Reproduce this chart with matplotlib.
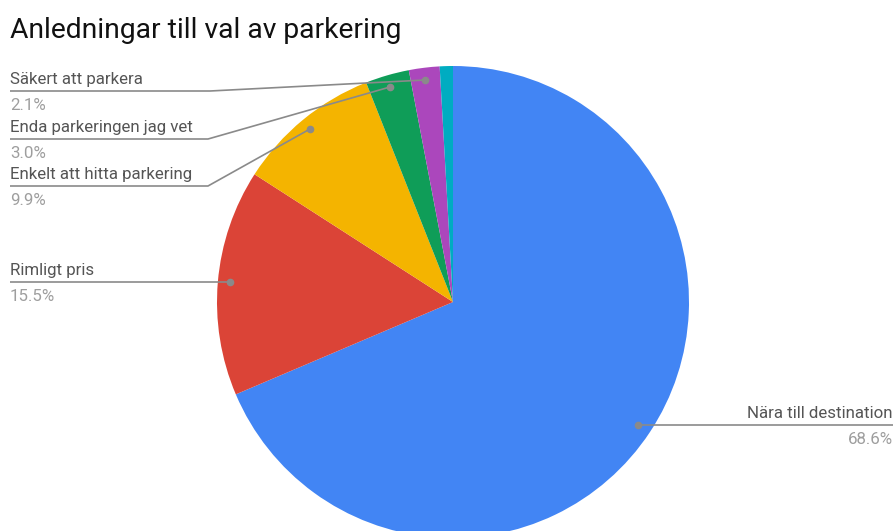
import matplotlib.pyplot as plt

# slices, clockwise from the top
labels = ['Nära till destination', 'Rimligt pris', 'Enkelt att hitta parkering',
          'Enda parkeringen jag vet', 'Säkert att parkera', 'Övrigt']
values = [68.6, 15.5, 9.9, 3.0, 2.1, 0.9]
colors = ['#4285F4', '#DB4437', '#F4B400', '#0F9D58', '#AB47BC', '#00ACC1']
pct_labels = ['68.6%', '15.5%', '9.9%', '3.0%', '2.1%', '']

W, H = 896, 531
fig = plt.figure(figsize=(W / 100, H / 100), dpi=100)
ax = fig.add_axes([0, 0, 1, 1])

# work in pixel coordinates (y down) via a helper
def py(y):
    return H - y

cx, cy, r = 453, 302, 236
ax.pie(values, colors=colors, startangle=90, counterclock=False,
       center=(cx, py(cy)), radius=r, frame=True,
       wedgeprops=dict(linewidth=0))
ax.set_xlim(0, W)
ax.set_ylim(0, H)
ax.set_aspect('equal')
ax.axis('off')

fig.text(10 / W, 1 - 31 / H, 'Anledningar till val av parkering',
         fontsize=20.3, family='Roboto', color='#111111', va='center', ha='left')

line_c = '#8a8a8a'
lab_c = '#555555'
pct_c = '#9e9e9e'
fs = 12.2

# leader lines: (dot, elbow, end) in pixels, text side
leaders = [
    ((638, 425), (638, 425), (893, 425), 'right'),
    ((230, 282), (230, 282), (10, 282), 'left'),
    ((310, 129), (208, 186), (10, 186), 'left'),
    ((390, 87), (208, 139), (10, 139), 'left'),
    ((425, 80), (210, 91), (10, 91), 'left'),
]

for i, (dot, elbow, end, side) in enumerate(leaders):
    xs = [dot[0], elbow[0], end[0]]
    ys = [py(dot[1]), py(elbow[1]), py(end[1])]
    ax.plot(xs, ys, color=line_c, lw=1.2, solid_capstyle='butt')
    ax.plot(dot[0], py(dot[1]), 'o', color=line_c, ms=4.5)
    tx = end[0]
    ax.text(tx, py(end[1] - 4), labels[i], ha=side, va='bottom',
            fontsize=fs, family='Roboto', color=lab_c)
    ax.text(tx, py(end[1] + 7), pct_labels[i], ha=side, va='top',
            fontsize=fs, family='Roboto', color=pct_c)

fig.savefig('out.png', dpi=100)
